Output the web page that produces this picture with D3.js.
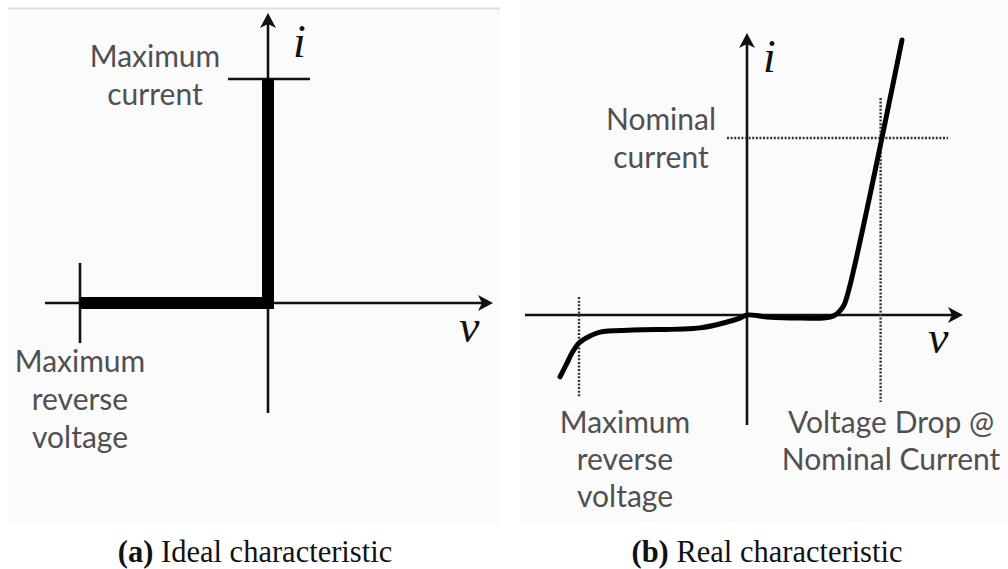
<!DOCTYPE html>
<html>
<head>
<meta charset="utf-8">
<script src="https://cdn.jsdelivr.net/npm/d3@7"></script>
<style>
  html, body { margin: 0; padding: 0; background: #ffffff; }
  svg { display: block; }
  .lbl { font-family: Lato, "Open Sans", sans-serif; fill: #505050; font-size: 30px; }
  .sym { font-family: "Liberation Serif", "Times New Roman", serif; font-style: italic; fill: #111; font-size: 46px; }
  .cap { font-family: "Liberation Serif", "Times New Roman", serif; fill: #111; font-size: 30.5px; }
</style>
</head>
<body>
<svg id="chart" width="1008" height="569"></svg>
<script>
// ---- Ideal diode characteristic (normalised units) ----
const idealV = [-0.94, 0, 0];
const idealI = [0, 0, 0.8];
const idealMaxReverse = -0.94;
const idealMaxCurrent = 0.8;

// ---- Real diode characteristic (normalised units) ----
const realV = [-0.935, -0.905, -0.875, -0.84, -0.785, -0.735, -0.57, -0.235, -0.10, -0.035, 0,
               0.10, 0.265, 0.43, 0.48, 0.505, 0.775];
const realI = [-0.221, -0.179, -0.136, -0.10, -0.075, -0.061, -0.054, -0.046, -0.025, -0.011, 0,
               -0.007, -0.011, -0.004, 0.029, 0.079, 0.982];
const realMaxReverse = -0.84;
const nominalCurrent = 0.632;
const voltageDrop = 0.668;

// Text
const captions = [["(a)", " Ideal characteristic"], ["(b)", " Real characteristic"]];

const svg = d3.select("#chart");
const ink = "#111";

// panel backgrounds
svg.append("rect").attr("x", 8).attr("y", 8).attr("width", 492).attr("height", 517).attr("fill", "#fbfbfb");
svg.append("line").attr("x1", 8).attr("x2", 500).attr("y1", 8.5).attr("y2", 8.5).attr("stroke", "#dedede").attr("stroke-width", 2);
svg.append("rect").attr("x", 521).attr("y", 0).attr("width", 487).attr("height", 522).attr("fill", "#fbfbfb");

function arrowHead(g, x, y, dir) {
  // filled arrow head; dir: "up" or "right"
  const L = 15, W = 8, notch = 4;
  let p;
  if (dir === "up") p = [[x, y], [x + W, y + L], [x, y + L - notch], [x - W, y + L]];
  else p = [[x, y], [x - L, y - W], [x - L + notch, y], [x - L, y + W]];
  g.append("path").attr("d", "M" + p.map(d => d.join(",")).join("L") + "Z").attr("fill", ink);
}

function axes(g, x, y, vExt, iExt) {
  g.append("line").attr("x1", x(vExt[0])).attr("x2", x(vExt[1]) - 6)
    .attr("y1", y(0)).attr("y2", y(0)).attr("stroke", ink).attr("stroke-width", 2.6);
  g.append("line").attr("x1", x(0)).attr("x2", x(0))
    .attr("y1", y(iExt[0])).attr("y2", y(iExt[1]) + 6).attr("stroke", ink).attr("stroke-width", 2.6);
  arrowHead(g, x(vExt[1]), y(0), "right");
  arrowHead(g, x(0), y(iExt[1]), "up");
}

function multiline(g, lines, cx, baseline, step) {
  const t = g.append("text").attr("class", "lbl").attr("text-anchor", "middle");
  lines.forEach((s, k) => t.append("tspan").attr("x", cx).attr("y", baseline + k * step).text(s));
}

// ================= (a) Ideal =================
{
  const g = svg.append("g");
  const x = d3.scaleLinear().domain([-1, 1]).range([68, 468]);
  const y = d3.scaleLinear().domain([-1, 1]).range([583, 23]);

  axes(g, x, y, [-1.115, 1.125], [-0.393, 1.036]);

  // limit ticks
  g.append("line").attr("x1", x(idealMaxReverse)).attr("x2", x(idealMaxReverse))
    .attr("y1", y(0.143)).attr("y2", y(-0.143)).attr("stroke", ink).attr("stroke-width", 2.6);
  g.append("line").attr("x1", x(-0.2)).attr("x2", x(0.21))
    .attr("y1", y(idealMaxCurrent)).attr("y2", y(idealMaxCurrent)).attr("stroke", ink).attr("stroke-width", 2.6);

  // characteristic
  const pts = idealV.map((v, k) => [v, idealI[k]]);
  g.append("path").datum(pts)
    .attr("d", d3.line().x(d => x(d[0])).y(d => y(d[1])))
    .attr("fill", "none").attr("stroke", "#000").attr("stroke-width", 12)
    .attr("stroke-linejoin", "miter");

  g.append("text").attr("class", "sym").attr("x", 293).attr("y", 57).text("i");
  g.append("text").attr("class", "sym").attr("x", 459).attr("y", 342).text("v");

  multiline(g, ["Maximum", "current"], 155, 67, 38);
  multiline(g, ["Maximum", "reverse", "voltage"], 80, 372, 38);
}

// ================= (b) Real =================
{
  const g = svg.append("g");
  const x = d3.scaleLinear().domain([-1, 1]).range([547, 947]);
  const y = d3.scaleLinear().domain([-1, 1]).range([595, 35]);

  axes(g, x, y, [-1.11, 1.08], [-0.393, 1.007]);

  const dotted = (x1, x2, y1, y2) => g.append("line")
    .attr("x1", x1).attr("x2", x2).attr("y1", y1).attr("y2", y2)
    .attr("stroke", "#333").attr("stroke-width", 2.4).attr("stroke-dasharray", "2,1.6");

  dotted(x(-0.1), x(1.005), y(nominalCurrent), y(nominalCurrent));
  dotted(x(voltageDrop), x(voltageDrop), y(0.775), y(-0.311));
  dotted(x(realMaxReverse), x(realMaxReverse), y(0.064), y(-0.296));

  const pts = realV.map((v, k) => [v, realI[k]]);
  g.append("path").datum(pts)
    .attr("d", d3.line().x(d => x(d[0])).y(d => y(d[1])).curve(d3.curveCatmullRom.alpha(0.5)))
    .attr("fill", "none").attr("stroke", "#000").attr("stroke-width", 5)
    .attr("stroke-linecap", "round").attr("stroke-linejoin", "round");

  g.append("text").attr("class", "sym").attr("x", 763).attr("y", 72).text("i");
  g.append("text").attr("class", "sym").attr("x", 928).attr("y", 353).text("v");

  multiline(g, ["Nominal", "current"], 661, 130, 38);
  multiline(g, ["Maximum", "reverse", "voltage"], 625, 433, 37);
  multiline(g, ["Voltage Drop @", "Nominal Current"], 891, 433, 37);
}

// ---- captions ----
[[255, 0], [767, 1]].forEach(([cx, k]) => {
  const t = svg.append("text").attr("class", "cap").attr("x", cx).attr("y", 562).attr("text-anchor", "middle");
  t.append("tspan").attr("font-weight", "bold").text(captions[k][0]);
  t.append("tspan").text(captions[k][1]);
});
</script>
</body>
</html>
